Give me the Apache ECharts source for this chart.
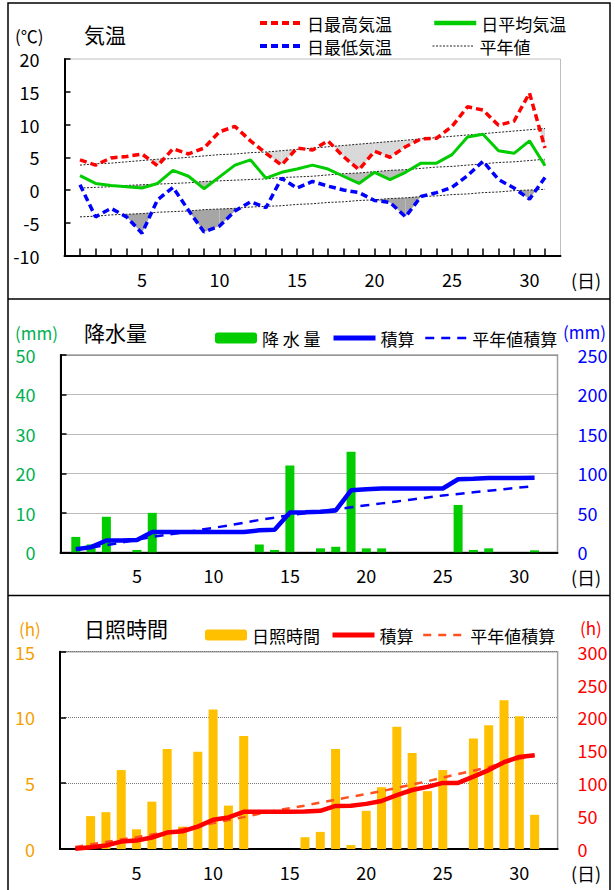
<!DOCTYPE html>
<html><head><meta charset="utf-8">
<script src="https://cdn.jsdelivr.net/npm/echarts@6/dist/echarts.min.js"></script>
<style>html,body{margin:0;padding:0;background:#fff}#c{width:615px;height:890px}</style>
</head><body><div id="c"></div>
<script>
// ---- data ----
const days = [1,2,3,4,5,6,7,8,9,10,11,12,13,14,15,16,17,18,19,20,21,22,23,24,25,26,27,28,29,30,31];
const dayLabels = [5,10,15,20,25,30];
const tMax  = [4.6,3.8,4.9,5.1,5.5,3.7,6.3,5.5,6.4,8.9,9.7,7.5,5.6,3.8,6.4,6.1,7.5,5.1,3.1,5.9,5.0,6.6,7.8,7.9,9.7,12.7,12.2,9.9,10.5,14.8,6.4];
const tMean = [2.2,1.0,0.7,0.5,0.3,1.0,3.0,2.1,0.2,2.0,3.8,4.6,1.8,2.7,3.2,3.8,3.2,2.1,1.0,2.7,1.6,2.7,4.1,4.1,5.4,8.1,8.5,6.0,5.6,7.5,3.7];
const tMin  = [0.8,-4.1,-2.8,-4.1,-6.6,-1.5,0.4,-3.1,-6.4,-5.5,-3.2,-1.8,-2.7,1.8,0.3,1.3,0.6,0.0,-0.4,-1.6,-1.9,-4.1,-1.0,-0.4,0.4,2.2,4.4,1.6,0.3,-1.4,1.9];
const tMaxNorm  = [3.8,4.0,4.1,4.3,4.5,4.7,4.8,5.0,5.2,5.4,5.5,5.7,5.8,6.0,6.2,6.4,6.6,6.8,7.0,7.2,7.4,7.6,7.8,8.0,8.2,8.4,8.6,8.8,9.0,9.2,9.4];
const tMeanNorm = [0.3,0.4,0.5,0.7,0.8,0.9,1.0,1.1,1.3,1.4,1.5,1.6,1.7,1.9,2.0,2.1,2.3,2.5,2.6,2.8,3.0,3.1,3.3,3.5,3.6,3.8,4.0,4.2,4.3,4.5,4.7];
const tMinNorm  = [-4.1,-4.0,-3.8,-3.7,-3.6,-3.4,-3.3,-3.2,-3.0,-2.9,-2.8,-2.6,-2.5,-2.4,-2.2,-2.1,-1.9,-1.8,-1.6,-1.5,-1.3,-1.2,-1.0,-0.9,-0.7,-0.6,-0.4,-0.3,-0.1,0.0,0.1];

const precip = [3.9,2.0,9.0,0,0.6,10.0,0,0,0,0,0,0,2.0,0.6,22.0,0,1.0,1.4,25.5,1.0,1.0,0,0,0,0,12.0,0.6,1.0,0,0,0.5];
const precipCum = [4.0,6.5,15.0,15.0,15.6,25.8,25.8,25.8,25.8,25.8,25.8,25.8,27.8,28.6,50.3,50.8,51.5,53.0,78.5,80.0,80.8,80.8,80.8,80.8,80.8,92.5,93.2,94.2,94.2,94.2,94.6];
const precipNormCum = [3.0,6.0,9.0,12.5,16.0,19.5,22.5,25.0,28.0,31.0,34.0,37.5,41.0,44.0,47.0,49.5,52.0,54.5,57.0,59.5,62.0,64.5,67.0,69.5,72.0,74.0,76.0,78.0,80.0,82.0,84.0];

const sun = [0,2.5,2.8,6.0,1.5,3.6,7.6,1.7,7.4,10.6,3.3,8.6,0,0,0,0.9,1.3,7.6,0.3,2.9,4.7,9.3,7.3,4.4,6.0,0,8.4,9.4,11.3,10.1,2.6];
const sunCum = [0.5,2.5,5.3,11.3,12.8,17.5,25.0,27.0,34.0,44.5,48.0,56.5,56.5,56.5,56.5,57.0,58.0,65.5,65.8,68.6,73.0,82.0,89.7,94.5,100.5,100.5,110.0,120.0,132.0,140.0,142.5];
const sunNormCum = [3,7,10.5,14.5,18,22,26,30.5,35,39.5,44,48.5,53.5,58,62,66,70.5,75,79.5,83.5,88,93,98,103,108.5,114,119,124.5,131,137,142];

// ---- helpers ----
const FONT = '"Noto Sans CJK JP", "Noto Sans", sans-serif';
const pair = arr => days.map((d, i) => [d, arr[i]]);

function belowFill(actual, normal, color) {
  const segs = days.slice(0, -1).map((d, i) => [d, actual[i]]);
  return {
    type: 'custom', xAxisIndex: 0, yAxisIndex: 0, silent: true, z: 1,
    data: segs, encode: { x: 0, y: 1 },
    renderItem(params, api) {
      const i = params.dataIndex;
      const x0 = days[i], x1 = days[i + 1];
      const a0 = actual[i], a1 = actual[i + 1], n0 = normal[i], n1 = normal[i + 1];
      const d0 = n0 - a0, d1 = n1 - a1;
      let pts;
      if (d0 <= 0 && d1 <= 0) return null;
      if (d0 > 0 && d1 > 0) pts = [[x0, a0], [x1, a1], [x1, n1], [x0, n0]];
      else {
        const t = d0 / (d0 - d1);
        const xc = x0 + t * (x1 - x0), yc = a0 + t * (a1 - a0);
        pts = d0 > 0 ? [[x0, a0], [xc, yc], [x0, n0]] : [[xc, yc], [x1, a1], [x1, n1]];
      }
      return { type: 'polygon', shape: { points: pts.map(p => api.coord(p)) }, style: { fill: color } };
    }
  };
}

function xAxisCfg(gridIndex, max, ticks) {
  return {
    type: 'value', gridIndex, min: 0, max,
    axisLine: { onZero: false, lineStyle: { color: '#000', width: 2 } },
    axisTick: ticks ? { show: true, inside: true, length: 7, customValues: days, lineStyle: { color: '#000', width: 1.5 } } : { show: false },
    axisLabel: { customValues: dayLabels, fontSize: 18, color: '#000', margin: 14, fontFamily: FONT },
    splitLine: { show: false }
  };
}

function leftY(gridIndex, min, max, interval, color, split) {
  return {
    type: 'value', gridIndex, min, max, interval, position: 'left',
    axisLine: { show: true, onZero: false, lineStyle: { color: '#000', width: 2 } },
    axisTick: { show: true, inside: true, length: 6, lineStyle: { color: '#000', width: 1.5 } },
    axisLabel: { fontSize: 18, color, margin: 25, fontFamily: FONT },
    splitLine: split ? { show: true, lineStyle: { color: '#777', type: 'dotted', width: 1 } } : { show: false }
  };
}
function rightY(gridIndex, min, max, interval, color) {
  return {
    type: 'value', gridIndex, min, max, interval, position: 'right',
    axisLine: { show: false }, axisTick: { show: false },
    axisLabel: { fontSize: 18, color, margin: 20, fontFamily: FONT },
    splitLine: { show: false }
  };
}

function lg(name, left, top, lineWidth) {
  const o = {
    data: [name], left, top, padding: 0, itemWidth: 42, itemHeight: 11, selectedMode: false,
    textStyle: { fontSize: 17, lineHeight: 18, color: '#000', fontFamily: FONT }
  };
  if (lineWidth) { o.itemStyle = { opacity: 0 }; o.lineStyle = { width: lineWidth }; }
  return o;
}

function txt(text, x, y, color, size, align) {
  return { type: 'text', silent: true, style: { text, x, y, fill: color, font: size + 'px ' + FONT, align: align || 'left', verticalAlign: 'middle' } };
}

const chart = echarts.init(document.getElementById('c'), null, { renderer: 'svg' });
chart.setOption({
  animation: false,
  backgroundColor: '#fff',
  title: [
    { text: '気温', left: 84, top: 23, padding: 0, textStyle: { fontSize: 21, fontWeight: 'normal', color: '#000', fontFamily: FONT } },
    { text: '降水量', left: 84, top: 321, padding: 0, textStyle: { fontSize: 21, fontWeight: 'normal', color: '#000', fontFamily: FONT } },
    { text: '日照時間', left: 84, top: 617, padding: 0, textStyle: { fontSize: 21, fontWeight: 'normal', color: '#000', fontFamily: FONT } }
  ],
  legend: [
    lg('日最高気温', 258, 14, 4), lg('日平均気温', 432, 14, 4.5),
    lg('日最低気温', 258, 37, 4), lg('平年値', 432, 37, 1),
    lg('降 水 量', 215, 329, 0), lg('積算', 331, 329, 5), lg('平年値積算', 424, 329, 2.5),
    lg('日照時間', 205, 626, 0), lg('積算\u200B', 330, 626, 5), lg('平年値積算\u200B', 422, 626, 2.5)
  ],
  grid: [
    { left: 64.5, top: 59, width: 496, height: 196.5, show: true, borderColor: '#BFBFBF', borderWidth: 1 },
    { left: 60.5, top: 355, width: 497, height: 197.3, show: true, borderColor: '#A0A0A0', borderWidth: 1.5 },
    { left: 60, top: 651.7, width: 497.6, height: 197.3, show: true, borderColor: '#A0A0A0', borderWidth: 1.5 }
  ],
  xAxis: [xAxisCfg(0, 32, true), xAxisCfg(1, 32.5, false), xAxisCfg(2, 32.5, false)],
  yAxis: [
    leftY(0, -10, 20, 5, '#000', false),
    leftY(1, 0, 50, 10, '#00B050', true),
    rightY(1, 0, 250, 50, '#0000FF'),
    leftY(2, 0, 15, 5, '#F5A000', true),
    rightY(2, 0, 300, 50, '#FF0000')
  ],
  series: [
    belowFill(tMax, tMaxNorm, '#D9D9D9'),
    belowFill(tMean, tMeanNorm, '#BDBDBD'),
    belowFill(tMin, tMinNorm, '#A6A6A6'),
    { name: '平年値', type: 'line', xAxisIndex: 0, yAxisIndex: 0, data: pair(tMaxNorm), symbol: 'none', z: 2,
      lineStyle: { color: '#222', width: 1, type: [2, 1.5] }, itemStyle: { color: '#222' } },
    { name: '平年値(平均)', type: 'line', xAxisIndex: 0, yAxisIndex: 0, data: pair(tMeanNorm), symbol: 'none', z: 2,
      lineStyle: { color: '#222', width: 1, type: [2, 1.5] } },
    { name: '平年値(最低)', type: 'line', xAxisIndex: 0, yAxisIndex: 0, data: pair(tMinNorm), symbol: 'none', z: 2,
      lineStyle: { color: '#222', width: 1, type: [2, 1.5] } },
    { name: '日平均気温', type: 'line', xAxisIndex: 0, yAxisIndex: 0, data: pair(tMean), symbol: 'none', z: 3,
      lineStyle: { color: '#00CC00', width: 3 } , itemStyle: { color: '#00CC00' } },
    { name: '日最高気温', type: 'line', xAxisIndex: 0, yAxisIndex: 0, data: pair(tMax), symbol: 'none', z: 4,
      lineStyle: { color: '#FF0000', width: 3.5, type: [7, 4] }, itemStyle: { color: '#FF0000' } },
    { name: '日最低気温', type: 'line', xAxisIndex: 0, yAxisIndex: 0, data: pair(tMin), symbol: 'none', z: 4,
      lineStyle: { color: '#0000FF', width: 3.5, type: [7, 4] }, itemStyle: { color: '#0000FF' } },

    { name: '降 水 量', type: 'bar', xAxisIndex: 1, yAxisIndex: 1, data: pair(precip), barWidth: 9, z: 2,
      itemStyle: { color: '#00CC00' } },
    { name: '平年値積算', type: 'line', xAxisIndex: 1, yAxisIndex: 2, data: pair(precipNormCum), symbol: 'none', z: 3,
      lineStyle: { color: '#0000FF', width: 2.5, type: [9, 7] }, itemStyle: { color: '#0000FF' } },
    { name: '積算', type: 'line', xAxisIndex: 1, yAxisIndex: 2, data: pair(precipCum), symbol: 'none', z: 4,
      lineStyle: { color: '#0000FF', width: 4.5 }, itemStyle: { color: '#0000FF' } },

    { name: '日照時間', type: 'bar', xAxisIndex: 2, yAxisIndex: 3, data: pair(sun), barWidth: 9, z: 2,
      itemStyle: { color: '#FFC000' } },
    { name: '平年値積算\u200B', type: 'line', xAxisIndex: 2, yAxisIndex: 4, data: pair(sunNormCum), symbol: 'none', z: 3,
      lineStyle: { color: '#FF5020', width: 2.5, type: [8, 7] }, itemStyle: { color: '#FF5020' } },
    { name: '積算\u200B', type: 'line', xAxisIndex: 2, yAxisIndex: 4, data: pair(sunCum), symbol: 'none', z: 4,
      lineStyle: { color: '#FF0000', width: 4.5 }, itemStyle: { color: '#FF0000' } }
  ],
  graphic: [
    { type: 'rect', silent: true, shape: { x: 8, y: 3, width: 602, height: 900 }, style: { fill: 'none', stroke: '#000', lineWidth: 1.5 } },
    { type: 'line', silent: true, shape: { x1: 8, y1: 299, x2: 610, y2: 299 }, style: { stroke: '#000', lineWidth: 1.5 } },
    { type: 'line', silent: true, shape: { x1: 8, y1: 595.5, x2: 610, y2: 595.5 }, style: { stroke: '#000', lineWidth: 1.5 } },
    txt('(℃)', 15, 35, '#000', 17),
    txt('(mm)', 15, 332, '#00B050', 17),
    txt('(mm)', 563, 331, '#0000FF', 17),
    txt('(h)', 19, 628, '#F5A000', 17),
    txt('(h)', 580, 627, '#FF0000', 17),
    txt('(日)', 571, 280, '#000', 18),
    txt('(日)', 571, 577, '#000', 18),
    txt('(日)', 571, 873, '#000', 18)
  ]
});
</script>
</body></html>
